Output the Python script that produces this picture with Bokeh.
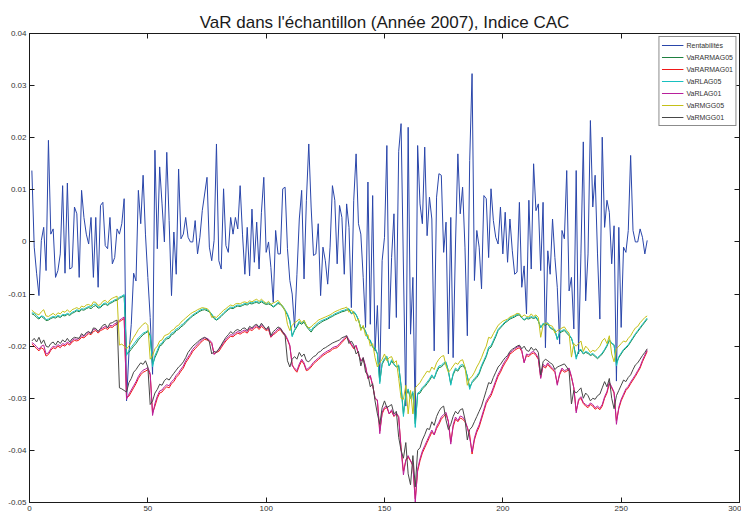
from bokeh.plotting import figure
from bokeh.models import FixedTicker, LinearAxis, Range1d, Legend, LegendItem, CustomJSTickFormatter
from bokeh.embed import file_html
from bokeh.resources import INLINE

title_text = "VaR dans l'échantillon (Année 2007), Indice CAC"
x_ticks = [0, 50, 100, 150, 200, 250, 300]
y_ticks = [-0.05, -0.04, -0.03, -0.02, -0.01, 0, 0.01, 0.02, 0.03, 0.04]
y_tick_labels = ["-0.05", "-0.04", "-0.03", "-0.02", "-0.01", "0", "0.01", "0.02", "0.03", "0.04"]
series_names = ["Rentabilités", "VaRARMAG05", "VaRARMAG01", "VaRLAG05", "VaRLAG01", "VaRMGG05", "VaRMGG01"]

days = list(range(1, 262))

rentabilites = [
    0.0137, -0.0010, -0.0060, -0.0103, 0.0003, 0.0028, -0.0055, 0.0195, 0.0015, 0.0025,
    -0.0068, -0.0055, -0.0023, 0.0108, -0.0060, 0.0113, -0.0052, -0.0049, 0.0067, 0.0054,
    -0.0068, 0.0099, 0.0047, 0.0015, -0.0004, 0.0047, -0.0068, 0.0047, -0.0087, 0.0070,
    0.0076, -0.0007, -0.0013, 0.0047, -0.0042, -0.0030, 0.0025, 0.0015, 0.0035, 0.0083,
    -0.0305, -0.0215, -0.0158, -0.0060, -0.0075, 0.0099, 0.0035, 0.0128, 0.0015, -0.0068,
    -0.0145, -0.0254, 0.0176, -0.0013, 0.0144, 0.0073, 0.0000, 0.0172, 0.0041, -0.0103,
    0.0019, -0.0062, 0.0140, 0.0006, 0.0015, 0.0047, 0.0009, 0.0000, 0.0000, 0.0041,
    -0.0023, 0.0009, 0.0060, 0.0092, 0.0124, -0.0010, -0.0036, 0.0003, 0.0188, -0.0036,
    -0.0052, 0.0102, -0.0007, -0.0020, 0.0047, 0.0015, 0.0047, 0.0025, 0.0108, 0.0015,
    -0.0062, 0.0028, -0.0065, 0.0063, -0.0039, 0.0038, -0.0052, 0.0057, 0.0124, -0.0020,
    0.0000, -0.0049, -0.0116, 0.0022, -0.0023, -0.0023, 0.0102, 0.0105, -0.0013, -0.0074,
    -0.0100, -0.0164, -0.0062, 0.0044, 0.0099, -0.0071, 0.0080, 0.0188, 0.0067, -0.0026,
    -0.0023, 0.0035, -0.0103, -0.0010, -0.0036, -0.0081, -0.0010, 0.0108, 0.0080, -0.0042,
    0.0070, 0.0047, -0.0062, 0.0073, 0.0028, -0.0126, 0.0080, 0.0169, 0.0035, 0.0015,
    -0.0068, -0.0164, 0.0115, -0.0158, 0.0089, -0.0209, -0.0122, -0.0260, -0.0036, 0.0009,
    0.0185, -0.0167, -0.0030, 0.0054, -0.0145, 0.0174, 0.0227, -0.0050, -0.0315, 0.0220,
    -0.0177, -0.0068, -0.0340, 0.0185, 0.0073, 0.0035, 0.0182, 0.0012, 0.0086, 0.0044,
    -0.0209, 0.0086, 0.0131, 0.0128, -0.0020, 0.0038, -0.0215, 0.0047, -0.0222, -0.0004,
    0.0169, 0.0054, 0.0105, -0.0010, -0.0180, 0.0156, 0.0323, -0.0074, 0.0022, -0.0010,
    -0.0090, 0.0089, 0.0083, -0.0030, 0.0102, 0.0041, 0.0009, -0.0004, 0.0067, -0.0023,
    0.0057, -0.0039, 0.0044, -0.0017, -0.0062, -0.0058, 0.0076, -0.0087, -0.0046, -0.0138,
    0.0080, -0.0052, 0.0150, 0.0060, 0.0073, -0.0055, 0.0076, -0.0203, -0.0017, -0.0062,
    0.0044, -0.0030, -0.0087, -0.0196, 0.0022, 0.0006, 0.0137, -0.0094, -0.0068, -0.0167,
    0.0137, -0.0215, -0.0023, 0.0192, -0.0113, -0.0023, 0.0233, 0.0067, 0.0128, -0.0023,
    -0.0148, 0.0201, 0.0028, 0.0080, 0.0057, -0.0042, 0.0031, -0.0267, 0.0028, -0.0164,
    -0.0010, -0.0020, 0.0022, 0.0166, 0.0022, 0.0000, 0.0000, 0.0025, 0.0009, -0.0023, 0.0003,
]

var_armag05 = [
    -0.0138, -0.0140, -0.0145, -0.0148, -0.0143, -0.0146, -0.0151, -0.0150, -0.0147, -0.0145,
    -0.0146, -0.0143, -0.0145, -0.0141, -0.0142, -0.0139, -0.0141, -0.0137, -0.0135, -0.0132,
    -0.0134, -0.0130, -0.0131, -0.0128, -0.0126, -0.0128, -0.0124, -0.0122, -0.0127, -0.0126,
    -0.0121, -0.0119, -0.0122, -0.0118, -0.0116, -0.0113, -0.0112, -0.0108, -0.0106, -0.0103,
    -0.0215, -0.0212, -0.0206, -0.0200, -0.0195, -0.0188, -0.0183, -0.0178, -0.0175, -0.0172,
    -0.0180, -0.0235, -0.0222, -0.0212, -0.0200, -0.0197, -0.0190, -0.0186, -0.0185, -0.0178,
    -0.0176, -0.0170, -0.0168, -0.0163, -0.0160, -0.0155, -0.0150, -0.0146, -0.0142, -0.0139,
    -0.0136, -0.0133, -0.0131, -0.0130, -0.0132, -0.0134, -0.0140, -0.0147, -0.0150, -0.0147,
    -0.0143, -0.0138, -0.0134, -0.0130, -0.0127, -0.0128, -0.0125, -0.0123, -0.0124, -0.0122,
    -0.0120, -0.0121, -0.0118, -0.0119, -0.0117, -0.0116, -0.0118, -0.0115, -0.0118, -0.0120,
    -0.0119, -0.0121, -0.0125, -0.0122, -0.0118, -0.0120, -0.0125, -0.0132, -0.0140, -0.0152,
    -0.0180, -0.0170, -0.0163, -0.0155, -0.0158, -0.0154, -0.0162, -0.0168, -0.0173, -0.0166,
    -0.0162, -0.0158, -0.0155, -0.0152, -0.0150, -0.0148, -0.0145, -0.0143, -0.0140, -0.0138,
    -0.0136, -0.0134, -0.0133, -0.0131, -0.0130, -0.0138, -0.0135, -0.0140, -0.0150, -0.0165,
    -0.0164, -0.0172, -0.0185, -0.0190, -0.0202, -0.0205, -0.0215, -0.0268, -0.0235, -0.0226,
    -0.0222, -0.0238, -0.0229, -0.0235, -0.0240, -0.0238, -0.0275, -0.0330, -0.0295, -0.0285,
    -0.0300, -0.0290, -0.0349, -0.0292, -0.0290, -0.0282, -0.0278, -0.0272, -0.0266, -0.0258,
    -0.0262, -0.0250, -0.0241, -0.0240, -0.0235, -0.0232, -0.0248, -0.0272, -0.0255, -0.0245,
    -0.0248, -0.0240, -0.0238, -0.0242, -0.0258, -0.0279, -0.0270, -0.0265, -0.0260, -0.0253,
    -0.0240, -0.0230, -0.0220, -0.0205, -0.0202, -0.0192, -0.0182, -0.0170, -0.0165, -0.0160,
    -0.0155, -0.0152, -0.0148, -0.0146, -0.0144, -0.0141, -0.0140, -0.0146, -0.0150, -0.0147,
    -0.0148, -0.0145, -0.0147, -0.0145, -0.0152, -0.0164, -0.0158, -0.0160, -0.0157, -0.0165,
    -0.0168, -0.0170, -0.0186, -0.0175, -0.0172, -0.0170, -0.0175, -0.0180, -0.0185, -0.0200,
    -0.0221, -0.0210, -0.0208, -0.0215, -0.0212, -0.0214, -0.0218, -0.0216, -0.0220, -0.0224,
    -0.0220, -0.0215, -0.0208, -0.0200, -0.0189, -0.0195, -0.0198, -0.0232, -0.0222, -0.0215,
    -0.0208, -0.0204, -0.0199, -0.0192, -0.0185, -0.0178, -0.0172, -0.0166, -0.0160, -0.0154, -0.0148,
]

var_armag01 = [
    -0.0196, -0.0200, -0.0205, -0.0209, -0.0203, -0.0206, -0.0219, -0.0216, -0.0208, -0.0203,
    -0.0205, -0.0200, -0.0203, -0.0198, -0.0200, -0.0195, -0.0198, -0.0192, -0.0189, -0.0190,
    -0.0188, -0.0183, -0.0184, -0.0180, -0.0176, -0.0178, -0.0172, -0.0170, -0.0175, -0.0170,
    -0.0168, -0.0165, -0.0168, -0.0163, -0.0164, -0.0160, -0.0158, -0.0153, -0.0150, -0.0147,
    -0.0298, -0.0296, -0.0288, -0.0280, -0.0272, -0.0262, -0.0255, -0.0250, -0.0248, -0.0245,
    -0.0255, -0.0328, -0.0315, -0.0300, -0.0290, -0.0288, -0.0282, -0.0278, -0.0280, -0.0272,
    -0.0268, -0.0260, -0.0255, -0.0248, -0.0242, -0.0232, -0.0225, -0.0218, -0.0210, -0.0205,
    -0.0200, -0.0195, -0.0190, -0.0187, -0.0188, -0.0190, -0.0195, -0.0215, -0.0212, -0.0210,
    -0.0203, -0.0196, -0.0190, -0.0185, -0.0181, -0.0182, -0.0178, -0.0175, -0.0177, -0.0174,
    -0.0172, -0.0175, -0.0168, -0.0170, -0.0166, -0.0163, -0.0168, -0.0162, -0.0166, -0.0170,
    -0.0168, -0.0183, -0.0178, -0.0175, -0.0170, -0.0168, -0.0175, -0.0180, -0.0188, -0.0200,
    -0.0235, -0.0245, -0.0250, -0.0238, -0.0228, -0.0235, -0.0247, -0.0245, -0.0240, -0.0234,
    -0.0230, -0.0226, -0.0222, -0.0218, -0.0215, -0.0212, -0.0210, -0.0206, -0.0204, -0.0203,
    -0.0198, -0.0193, -0.0188, -0.0183, -0.0190, -0.0198, -0.0205, -0.0200, -0.0215, -0.0228,
    -0.0225, -0.0240, -0.0262, -0.0258, -0.0275, -0.0300, -0.0305, -0.0363, -0.0330, -0.0320,
    -0.0318, -0.0330, -0.0325, -0.0335, -0.0330, -0.0337, -0.0395, -0.0440, -0.0420, -0.0413,
    -0.0420, -0.0430, -0.0493, -0.0440, -0.0420, -0.0405, -0.0395, -0.0385, -0.0375, -0.0365,
    -0.0370, -0.0358, -0.0350, -0.0340, -0.0335, -0.0330, -0.0345, -0.0384, -0.0355, -0.0340,
    -0.0345, -0.0338, -0.0340, -0.0345, -0.0356, -0.0370, -0.0407, -0.0380, -0.0365, -0.0355,
    -0.0340, -0.0325, -0.0310, -0.0302, -0.0295, -0.0283, -0.0270, -0.0258, -0.0250, -0.0240,
    -0.0232, -0.0225, -0.0215, -0.0212, -0.0208, -0.0205, -0.0203, -0.0210, -0.0231, -0.0218,
    -0.0220, -0.0215, -0.0213, -0.0218, -0.0225, -0.0260, -0.0238, -0.0242, -0.0235, -0.0241,
    -0.0245, -0.0250, -0.0272, -0.0255, -0.0245, -0.0250, -0.0248, -0.0245, -0.0260, -0.0280,
    -0.0324, -0.0305, -0.0300, -0.0310, -0.0315, -0.0318, -0.0312, -0.0315, -0.0321, -0.0318,
    -0.0322, -0.0315, -0.0300, -0.0290, -0.0272, -0.0280, -0.0290, -0.0343, -0.0320, -0.0305,
    -0.0295, -0.0285, -0.0280, -0.0272, -0.0265, -0.0258, -0.0250, -0.0242, -0.0230, -0.0220, -0.0210,
]

var_lag05 = [
    -0.0136, -0.0137, -0.0141, -0.0146, -0.0142, -0.0143, -0.0149, -0.0148, -0.0145, -0.0143,
    -0.0144, -0.0141, -0.0143, -0.0139, -0.0140, -0.0137, -0.0139, -0.0135, -0.0133, -0.0130,
    -0.0132, -0.0128, -0.0129, -0.0126, -0.0124, -0.0125, -0.0120, -0.0119, -0.0125, -0.0124,
    -0.0119, -0.0117, -0.0120, -0.0116, -0.0114, -0.0111, -0.0110, -0.0106, -0.0104, -0.0101,
    -0.0218, -0.0208, -0.0202, -0.0196, -0.0190, -0.0184, -0.0180, -0.0175, -0.0173, -0.0170,
    -0.0178, -0.0240, -0.0218, -0.0208, -0.0197, -0.0194, -0.0187, -0.0183, -0.0182, -0.0175,
    -0.0173, -0.0167, -0.0165, -0.0160, -0.0157, -0.0152, -0.0148, -0.0144, -0.0140, -0.0137,
    -0.0134, -0.0131, -0.0129, -0.0128, -0.0130, -0.0133, -0.0138, -0.0145, -0.0149, -0.0145,
    -0.0141, -0.0136, -0.0132, -0.0128, -0.0125, -0.0126, -0.0123, -0.0121, -0.0122, -0.0120,
    -0.0118, -0.0119, -0.0116, -0.0117, -0.0115, -0.0114, -0.0116, -0.0113, -0.0116, -0.0118,
    -0.0117, -0.0119, -0.0124, -0.0120, -0.0116, -0.0118, -0.0123, -0.0130, -0.0138, -0.0150,
    -0.0182, -0.0168, -0.0160, -0.0152, -0.0156, -0.0151, -0.0160, -0.0165, -0.0170, -0.0163,
    -0.0159, -0.0155, -0.0152, -0.0150, -0.0148, -0.0146, -0.0143, -0.0141, -0.0138, -0.0136,
    -0.0134, -0.0132, -0.0131, -0.0129, -0.0128, -0.0137, -0.0133, -0.0139, -0.0149, -0.0166,
    -0.0162, -0.0171, -0.0186, -0.0188, -0.0202, -0.0203, -0.0214, -0.0272, -0.0232, -0.0223,
    -0.0219, -0.0238, -0.0226, -0.0234, -0.0240, -0.0236, -0.0278, -0.0335, -0.0292, -0.0282,
    -0.0300, -0.0287, -0.0356, -0.0290, -0.0287, -0.0279, -0.0275, -0.0269, -0.0263, -0.0255,
    -0.0262, -0.0247, -0.0238, -0.0237, -0.0232, -0.0230, -0.0248, -0.0275, -0.0252, -0.0242,
    -0.0246, -0.0237, -0.0235, -0.0240, -0.0258, -0.0283, -0.0268, -0.0262, -0.0257, -0.0250,
    -0.0237, -0.0227, -0.0217, -0.0202, -0.0199, -0.0189, -0.0179, -0.0168, -0.0163, -0.0158,
    -0.0153, -0.0150, -0.0146, -0.0144, -0.0142, -0.0139, -0.0138, -0.0145, -0.0149, -0.0145,
    -0.0146, -0.0143, -0.0145, -0.0143, -0.0151, -0.0165, -0.0156, -0.0158, -0.0155, -0.0164,
    -0.0166, -0.0168, -0.0188, -0.0173, -0.0170, -0.0168, -0.0173, -0.0178, -0.0184, -0.0200,
    -0.0225, -0.0208, -0.0206, -0.0214, -0.0210, -0.0212, -0.0216, -0.0214, -0.0218, -0.0222,
    -0.0218, -0.0213, -0.0206, -0.0198, -0.0187, -0.0194, -0.0197, -0.0238, -0.0220, -0.0213,
    -0.0206, -0.0202, -0.0197, -0.0190, -0.0183, -0.0176, -0.0170, -0.0164, -0.0158, -0.0152, -0.0146,
]

var_lag01 = [
    -0.0193, -0.0196, -0.0201, -0.0206, -0.0200, -0.0198, -0.0215, -0.0213, -0.0205, -0.0200,
    -0.0202, -0.0197, -0.0200, -0.0195, -0.0197, -0.0192, -0.0195, -0.0189, -0.0186, -0.0187,
    -0.0185, -0.0180, -0.0181, -0.0177, -0.0173, -0.0175, -0.0168, -0.0167, -0.0172, -0.0167,
    -0.0165, -0.0162, -0.0165, -0.0160, -0.0161, -0.0157, -0.0155, -0.0150, -0.0147, -0.0144,
    -0.0302, -0.0292, -0.0284, -0.0276, -0.0268, -0.0258, -0.0251, -0.0246, -0.0244, -0.0241,
    -0.0252, -0.0333, -0.0310, -0.0296, -0.0286, -0.0284, -0.0278, -0.0274, -0.0276, -0.0268,
    -0.0264, -0.0256, -0.0251, -0.0244, -0.0238, -0.0228, -0.0221, -0.0214, -0.0206, -0.0201,
    -0.0196, -0.0191, -0.0187, -0.0184, -0.0185, -0.0188, -0.0193, -0.0216, -0.0210, -0.0207,
    -0.0200, -0.0193, -0.0187, -0.0182, -0.0178, -0.0179, -0.0175, -0.0172, -0.0174, -0.0171,
    -0.0169, -0.0172, -0.0165, -0.0167, -0.0163, -0.0160, -0.0165, -0.0159, -0.0163, -0.0168,
    -0.0165, -0.0182, -0.0176, -0.0172, -0.0167, -0.0165, -0.0172, -0.0177, -0.0186, -0.0198,
    -0.0238, -0.0242, -0.0247, -0.0234, -0.0225, -0.0232, -0.0245, -0.0242, -0.0237, -0.0231,
    -0.0227, -0.0223, -0.0219, -0.0215, -0.0212, -0.0209, -0.0207, -0.0203, -0.0201, -0.0200,
    -0.0195, -0.0190, -0.0185, -0.0180, -0.0188, -0.0196, -0.0203, -0.0198, -0.0214, -0.0229,
    -0.0222, -0.0238, -0.0262, -0.0256, -0.0275, -0.0300, -0.0303, -0.0368, -0.0327, -0.0317,
    -0.0315, -0.0330, -0.0322, -0.0334, -0.0328, -0.0335, -0.0398, -0.0447, -0.0418, -0.0410,
    -0.0420, -0.0428, -0.0500, -0.0436, -0.0416, -0.0401, -0.0391, -0.0381, -0.0371, -0.0361,
    -0.0370, -0.0354, -0.0346, -0.0336, -0.0331, -0.0327, -0.0345, -0.0388, -0.0351, -0.0336,
    -0.0343, -0.0334, -0.0336, -0.0342, -0.0356, -0.0376, -0.0403, -0.0376, -0.0361, -0.0351,
    -0.0336, -0.0321, -0.0306, -0.0298, -0.0291, -0.0279, -0.0266, -0.0254, -0.0246, -0.0236,
    -0.0228, -0.0221, -0.0212, -0.0209, -0.0205, -0.0202, -0.0200, -0.0208, -0.0232, -0.0215,
    -0.0217, -0.0212, -0.0210, -0.0215, -0.0223, -0.0262, -0.0235, -0.0239, -0.0232, -0.0238,
    -0.0242, -0.0247, -0.0275, -0.0252, -0.0242, -0.0247, -0.0245, -0.0242, -0.0258, -0.0280,
    -0.0328, -0.0302, -0.0297, -0.0308, -0.0312, -0.0315, -0.0309, -0.0312, -0.0318, -0.0315,
    -0.0319, -0.0312, -0.0297, -0.0287, -0.0269, -0.0278, -0.0288, -0.0350, -0.0317, -0.0302,
    -0.0292, -0.0282, -0.0277, -0.0269, -0.0262, -0.0255, -0.0247, -0.0239, -0.0227, -0.0217, -0.0207,
]

var_mgg05 = [
    -0.0131, -0.0135, -0.0138, -0.0140, -0.0134, -0.0130, -0.0142, -0.0143, -0.0140, -0.0137,
    -0.0141, -0.0136, -0.0138, -0.0133, -0.0135, -0.0130, -0.0135, -0.0130, -0.0128, -0.0126,
    -0.0129, -0.0123, -0.0125, -0.0121, -0.0120, -0.0123, -0.0115, -0.0116, -0.0122, -0.0120,
    -0.0114, -0.0112, -0.0117, -0.0111, -0.0108, -0.0106, -0.0104, -0.0198, -0.0196, -0.0200,
    -0.0205, -0.0200, -0.0192, -0.0183, -0.0176, -0.0168, -0.0163, -0.0158, -0.0155, -0.0160,
    -0.0225, -0.0218, -0.0205, -0.0200, -0.0190, -0.0188, -0.0180, -0.0178, -0.0176, -0.0170,
    -0.0168, -0.0162, -0.0160, -0.0154, -0.0150, -0.0146, -0.0142, -0.0138, -0.0135, -0.0133,
    -0.0130, -0.0128, -0.0126, -0.0127, -0.0128, -0.0132, -0.0145, -0.0143, -0.0145, -0.0140,
    -0.0136, -0.0131, -0.0128, -0.0124, -0.0121, -0.0123, -0.0119, -0.0118, -0.0119, -0.0116,
    -0.0115, -0.0117, -0.0113, -0.0115, -0.0112, -0.0110, -0.0114, -0.0110, -0.0114, -0.0118,
    -0.0114, -0.0120, -0.0117, -0.0115, -0.0112, -0.0118, -0.0124, -0.0132, -0.0158, -0.0170,
    -0.0160, -0.0155, -0.0152, -0.0148, -0.0155, -0.0150, -0.0160, -0.0165, -0.0163, -0.0158,
    -0.0155, -0.0150, -0.0148, -0.0146, -0.0144, -0.0142, -0.0140, -0.0137, -0.0134, -0.0132,
    -0.0130, -0.0128, -0.0127, -0.0125, -0.0135, -0.0130, -0.0138, -0.0152, -0.0148, -0.0170,
    -0.0160, -0.0180, -0.0178, -0.0200, -0.0195, -0.0222, -0.0240, -0.0232, -0.0225, -0.0215,
    -0.0228, -0.0222, -0.0220, -0.0232, -0.0228, -0.0262, -0.0300, -0.0302, -0.0275, -0.0330,
    -0.0285, -0.0330, -0.0280, -0.0275, -0.0270, -0.0262, -0.0255, -0.0248, -0.0250, -0.0240,
    -0.0245, -0.0232, -0.0225, -0.0220, -0.0218, -0.0238, -0.0250, -0.0245, -0.0238, -0.0232,
    -0.0235, -0.0228, -0.0226, -0.0240, -0.0275, -0.0262, -0.0258, -0.0250, -0.0240, -0.0232,
    -0.0222, -0.0210, -0.0200, -0.0183, -0.0185, -0.0176, -0.0168, -0.0160, -0.0156, -0.0152,
    -0.0150, -0.0148, -0.0144, -0.0142, -0.0140, -0.0137, -0.0138, -0.0144, -0.0140, -0.0143,
    -0.0144, -0.0138, -0.0143, -0.0140, -0.0145, -0.0183, -0.0160, -0.0155, -0.0158, -0.0160,
    -0.0162, -0.0175, -0.0170, -0.0168, -0.0165, -0.0163, -0.0170, -0.0175, -0.0221, -0.0195,
    -0.0200, -0.0195, -0.0190, -0.0210, -0.0200, -0.0205, -0.0212, -0.0208, -0.0210, -0.0205,
    -0.0200, -0.0190, -0.0185, -0.0195, -0.0180, -0.0215, -0.0230, -0.0205, -0.0200, -0.0195,
    -0.0190, -0.0192, -0.0185, -0.0180, -0.0172, -0.0165, -0.0162, -0.0155, -0.0150, -0.0145, -0.0142,
]

var_mgg01 = [
    -0.0190, -0.0185, -0.0192, -0.0183, -0.0195, -0.0188, -0.0200, -0.0202, -0.0195, -0.0192,
    -0.0198, -0.0190, -0.0195, -0.0188, -0.0192, -0.0185, -0.0192, -0.0186, -0.0183, -0.0184,
    -0.0185, -0.0176, -0.0180, -0.0174, -0.0172, -0.0176, -0.0165, -0.0166, -0.0172, -0.0166,
    -0.0160, -0.0158, -0.0165, -0.0156, -0.0155, -0.0152, -0.0150, -0.0280, -0.0282, -0.0285,
    -0.0288, -0.0270, -0.0262, -0.0250, -0.0245, -0.0238, -0.0232, -0.0235, -0.0228, -0.0240,
    -0.0312, -0.0305, -0.0290, -0.0283, -0.0273, -0.0275, -0.0266, -0.0262, -0.0265, -0.0258,
    -0.0252, -0.0246, -0.0240, -0.0236, -0.0230, -0.0222, -0.0212, -0.0206, -0.0200, -0.0196,
    -0.0192, -0.0188, -0.0185, -0.0183, -0.0186, -0.0192, -0.0215, -0.0210, -0.0212, -0.0205,
    -0.0198, -0.0190, -0.0183, -0.0178, -0.0172, -0.0176, -0.0170, -0.0168, -0.0171, -0.0166,
    -0.0165, -0.0170, -0.0162, -0.0165, -0.0160, -0.0158, -0.0164, -0.0156, -0.0162, -0.0168,
    -0.0162, -0.0180, -0.0172, -0.0168, -0.0163, -0.0166, -0.0173, -0.0180, -0.0228, -0.0240,
    -0.0225, -0.0220, -0.0225, -0.0212, -0.0220, -0.0215, -0.0228, -0.0230, -0.0225, -0.0220,
    -0.0218, -0.0212, -0.0210, -0.0205, -0.0203, -0.0200, -0.0197, -0.0194, -0.0192, -0.0190,
    -0.0188, -0.0184, -0.0182, -0.0180, -0.0195, -0.0190, -0.0198, -0.0215, -0.0210, -0.0238,
    -0.0222, -0.0250, -0.0255, -0.0278, -0.0272, -0.0305, -0.0330, -0.0350, -0.0318, -0.0305,
    -0.0318, -0.0315, -0.0312, -0.0330, -0.0325, -0.0375, -0.0400, -0.0415, -0.0385, -0.0445,
    -0.0466, -0.0410, -0.0470, -0.0400, -0.0395, -0.0380, -0.0370, -0.0358, -0.0360, -0.0345,
    -0.0352, -0.0335, -0.0325, -0.0318, -0.0315, -0.0342, -0.0360, -0.0350, -0.0335, -0.0325,
    -0.0330, -0.0322, -0.0320, -0.0340, -0.0380, -0.0360, -0.0355, -0.0345, -0.0335, -0.0325,
    -0.0315, -0.0300, -0.0285, -0.0270, -0.0272, -0.0260, -0.0250, -0.0240, -0.0235, -0.0228,
    -0.0222, -0.0218, -0.0210, -0.0206, -0.0203, -0.0200, -0.0198, -0.0205, -0.0200, -0.0208,
    -0.0210, -0.0202, -0.0208, -0.0205, -0.0212, -0.0255, -0.0230, -0.0225, -0.0228, -0.0232,
    -0.0235, -0.0245, -0.0240, -0.0238, -0.0236, -0.0234, -0.0240, -0.0248, -0.0311, -0.0285,
    -0.0290, -0.0285, -0.0280, -0.0300, -0.0290, -0.0295, -0.0305, -0.0300, -0.0302, -0.0295,
    -0.0292, -0.0280, -0.0268, -0.0278, -0.0262, -0.0300, -0.0320, -0.0295, -0.0285, -0.0275,
    -0.0265, -0.0268, -0.0260, -0.0255, -0.0245, -0.0236, -0.0232, -0.0225, -0.0218, -0.0212, -0.0205,
]

all_series = [rentabilites, var_armag05, var_armag01, var_lag05, var_lag01, var_mgg05, var_mgg01]
colors = ["#2a46aa", "#1f8040", "#f01818", "#18c0c0", "#b8209c", "#c4c018", "#474747"]

FONT = "Liberation Sans"

p = figure(width=741, height=516, output_backend="svg", toolbar_location=None,
           x_range=Range1d(0, 300), y_range=Range1d(-0.05, 0.04),
           min_border_left=29, min_border_right=2, min_border_top=33, min_border_bottom=14)
p.background_fill_color = "white"
p.border_fill_color = "white"
p.outline_line_color = "#1a1a1a"
p.outline_line_width = 1
p.xgrid.visible = False
p.ygrid.visible = False

p.title.text = title_text
p.title.align = "center"
p.title.text_font = FONT
p.title.text_font_size = "17px"
p.title.text_font_style = "normal"
p.title.text_color = "#1a1a1a"
p.title.standoff = 4

def style_axis(ax, ticks, show_labels):
    ax.ticker = FixedTicker(ticks=ticks)
    ax.major_tick_in = 5
    ax.major_tick_out = 0
    ax.minor_tick_line_color = None
    ax.axis_line_color = "#1a1a1a"
    ax.major_tick_line_color = "#1a1a1a"
    ax.major_label_text_font = FONT
    ax.major_label_text_color = "#333333"
    if show_labels:
        ax.major_label_text_font_size = "8px"
        ax.major_label_standoff = 3
    else:
        ax.major_label_text_font_size = "0px"
        ax.major_label_standoff = 0
        ax.formatter = CustomJSTickFormatter(code="return '';")

style_axis(p.xaxis[0], x_ticks, True)
style_axis(p.yaxis[0], y_ticks, True)
p.yaxis[0].major_label_overrides = dict(zip(y_ticks, y_tick_labels))

top_axis = LinearAxis()
style_axis(top_axis, x_ticks, False)
p.add_layout(top_axis, "above")
right_axis = LinearAxis()
style_axis(right_axis, y_ticks, False)
p.add_layout(right_axis, "right")

items = []
for name, vals, col in zip(series_names, all_series, colors):
    r = p.line(days, vals, line_color=col, line_width=1)
    items.append(LegendItem(label=name, renderers=[r]))

legend = Legend(items=items, location="top_right")
legend.border_line_color = "#1a1a1a"
legend.border_line_width = 1
legend.background_fill_color = "white"
legend.background_fill_alpha = 1
legend.label_text_font = FONT
legend.label_text_font_size = "7px"
legend.label_text_color = "#333333"
legend.glyph_width = 22
legend.glyph_height = 12
legend.label_height = 12
legend.spacing = 0
legend.padding = 2
legend.margin = 3
legend.label_standoff = 3
p.add_layout(legend)

open("out.html", "w").write(file_html(p, INLINE))
